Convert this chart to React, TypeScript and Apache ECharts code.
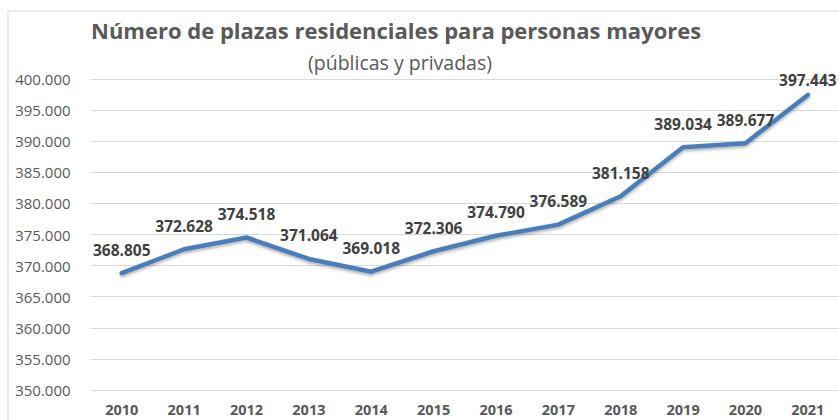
import React, { useEffect, useRef } from "react";
import * as echarts from "echarts";

const years = ["2010", "2011", "2012", "2013", "2014", "2015", "2016", "2017", "2018", "2019", "2020", "2021"];
const plazas = [368805, 372628, 374518, 371064, 369018, 372306, 374790, 376589, 381158, 389034, 389677, 397443];
const yMin = 350000;
const yMax = 400000;
const yStep = 5000;
const titleText = "Número de plazas residenciales para personas mayores";
const subtitleText = "(públicas y privadas)";

function fmt(n: number): string {
  const s = Math.round(n).toString();
  return s.replace(/\B(?=(\d{3})+(?!\d))/g, ".");
}

export default function App() {
  const ref = useRef<HTMLDivElement>(null);
  useEffect(() => {
    if (!ref.current) return;
    const chart = echarts.init(ref.current, null, { renderer: "svg" });
    const font = "'Open Sans', 'Liberation Sans', sans-serif";
    chart.setOption({
      animation: false,
      backgroundColor: "#ffffff",
      graphic: [
        {
          type: "rect",
          shape: { x: 8, y: 11, width: 900, height: 500 },
          style: { fill: "none", stroke: "#d9d9d9", lineWidth: 1 },
          z: 0,
        },
        {
          type: "text",
          x: 91,
          y: 30,
          style: {
            text: titleText,
            font: `bold 22px ${font}`,
            fill: "#595959",
            textAlign: "left",
            textVerticalAlign: "middle",
          },
        },
        {
          type: "text",
          x: 400,
          y: 62,
          style: {
            text: subtitleText,
            font: `19.5px ${font}`,
            fill: "#595959",
            textAlign: "center",
            textVerticalAlign: "middle",
          },
        },
      ],
      grid: { left: 90.6, right: -4.4, top: 79, bottom: 30, containLabel: false },
      xAxis: {
        type: "category",
        data: years,
        boundaryGap: true,
        axisLine: { show: false },
        axisTick: { show: false },
        axisLabel: {
          color: "#595959",
          fontFamily: font,
          fontWeight: "bold",
          fontSize: 14.5,
          margin: 12,
        },
      },
      yAxis: {
        type: "value",
        min: yMin,
        max: yMax,
        interval: yStep,
        axisLine: { show: false },
        axisTick: { show: false },
        splitLine: { lineStyle: { color: "#d9d9d9", width: 1 } },
        axisLabel: {
          color: "#595959",
          fontFamily: font,
          fontSize: 15,
          margin: 20,
          formatter: (v: number) => fmt(v),
        },
      },
      series: [
        {
          type: "line",
          data: plazas.map((v, i) =>
            i === plazas.length - 1
              ? { value: v, label: { distance: 6, offset: [-2, 0] } }
              : { value: v }
          ),
          symbol: "circle",
          symbolSize: 2,
          showSymbol: true,
          showAllSymbol: true,
          itemStyle: { color: "rgba(74,126,187,0)", borderWidth: 0 },
          lineStyle: {
            color: "#4a7ebb",
            width: 4.5,
            cap: "round",
            join: "round",
            shadowColor: "rgba(0,0,0,0.3)",
            shadowBlur: 3,
            shadowOffsetY: 2,
          },
          label: {
            show: true,
            position: "top",
            distance: 14.5,
            opacity: 1,
            color: "#404040",
            fontFamily: font,
            fontWeight: "bold",
            fontSize: 15.5,
            formatter: (p: any) => fmt(p.value),
          },
          labelLayout: { hideOverlap: false },
        },
      ],
    });
    return () => chart.dispose();
  }, []);
  return (
    <div
      ref={ref}
      style={{ position: "fixed", left: 0, top: 0, width: 839, height: 420 }}
    />
  );
}
